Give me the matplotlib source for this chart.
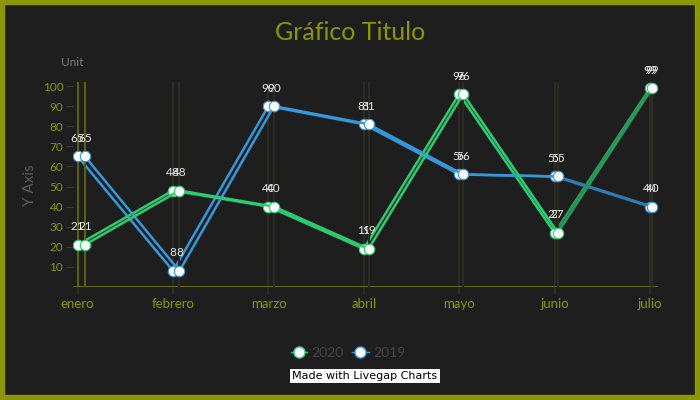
import matplotlib
matplotlib.use("Agg")
import matplotlib.pyplot as plt
from matplotlib.patches import Rectangle
from matplotlib.lines import Line2D

# chart data
meses = ["enero", "febrero", "marzo", "abril", "mayo", "junio", "julio"]
serie_2020 = [21, 48, 40, 19, 96, 27, 99]
serie_2019 = [65, 8, 90, 81, 56, 55, 40]
nombres = ["2020", "2019"]
yticks = [10, 20, 30, 40, 50, 60, 70, 80, 90, 100]

fondo = "#1e1e1e"
oliva = "#8c9600"
verde = "#2ecc71"
verde_osc = "#2a9a5a"
azul = "#3498db"
azul_osc = "#2b7cb3"

plt.rcParams["font.family"] = ["Lato", "DejaVu Sans"]

fig = plt.figure(figsize=(7, 4), dpi=100, facecolor=fondo)
W, H = 700, 400
pos = [73 / W, 1 - 287 / H, (658 - 73) / W, (287 - 82) / H]

ax = fig.add_axes(pos)
ax2 = fig.add_axes(pos)
ax.set_facecolor(fondo)
ax2.patch.set_visible(False)

# the reference is drawn twice with slightly different x scales
ax.set_xlim(-0.049, 6.084)
ax2.set_xlim(-0.125, 6.06)
ymax = 100 + 4 / 2.01
for a in (ax, ax2):
    a.set_ylim(0, ymax)
    for s in a.spines.values():
        s.set_visible(False)

def dibujar(a, zorder):
    x = list(range(len(meses)))
    for i in x[1:]:
        a.axvline(i, color="#2c2c22", lw=1.5, ymin=0, ymax=1, zorder=1)
    a.axvline(0, color="#5c5e12", lw=1.5, zorder=1)
    for vals, c, c2 in ((serie_2019, azul, azul_osc), (serie_2020, verde, verde_osc)):
        a.plot(x[:6], vals[:6], color=c, lw=1.8, zorder=zorder)
        a.plot(x[5:], vals[5:], color=c2, lw=1.8, zorder=zorder)
        a.plot(x, vals, ls="none", marker="o", ms=7.5, mfc="white",
               mec=c, mew=0.8, zorder=zorder + 1)
        for xi, v in zip(x, vals):
            a.annotate(str(v), (xi, v), xytext=(0, 9), textcoords="offset points",
                       ha="center", va="bottom", color="#e6e6e6", fontsize=8.5,
                       zorder=zorder + 2)

dibujar(ax, 3)
dibujar(ax2, 6)

ax.axhline(0, color="#6e7010", lw=2, zorder=2)
ax.set_yticks(yticks)
ax.set_yticklabels([str(t) for t in yticks], color=oliva, fontsize=8.5)
ax.tick_params(axis="y", length=5, color="#3a3a30", pad=2)
ax.set_xticks(range(len(meses)))
ax.set_xticklabels(meses, color=oliva, fontsize=9.5)
ax.tick_params(axis="x", length=5, color="#2c2c22", width=1.5, pad=3)
ax2.set_xticks([])
ax2.set_yticks([])

fig.text(350 / W, 1 - 33 / H, "Gráfico Titulo", color=oliva, fontsize=18,
         ha="center", va="center")
fig.text(61 / W, 1 - 62 / H, "Unit", color="#7a7a7a", fontsize=8.5,
         ha="left", va="center")
fig.text(30 / W, 1 - 185 / H, "Y Axis", color="#5a5a5a", fontsize=11,
         rotation=90, ha="center", va="center")

handles = [Line2D([], [], color=verde, lw=1, marker="o", ms=8, mfc="white", mec=verde),
           Line2D([], [], color=azul, lw=1, marker="o", ms=8, mfc="white", mec=azul)]
leg = fig.legend(handles, nombres, loc="center", bbox_to_anchor=(348 / W, 1 - 353 / H),
                 ncol=2, frameon=False, fontsize=10, handlelength=1.2,
                 handletextpad=0.3, columnspacing=0.6)
for t in leg.get_texts():
    t.set_color("#454545")

fig.text(365 / W, 1 - 376 / H, "Made with Livegap Charts", color="black",
         fontsize=8, ha="center", va="center", family="DejaVu Sans",
         bbox=dict(facecolor="white", edgecolor="none", pad=1.5))

fig.patches.append(Rectangle((0, 0), 1, 1, transform=fig.transFigure, fill=False,
                             edgecolor=oliva, lw=7.5, zorder=10))

fig.savefig("out.png", dpi=100, facecolor=fondo)
